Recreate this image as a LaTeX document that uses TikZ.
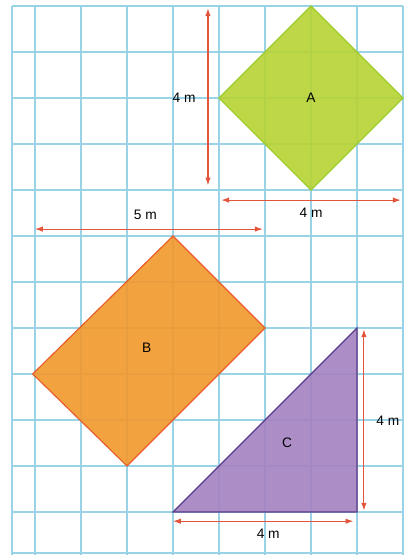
\documentclass[tikz,border=0pt]{standalone}
\usepackage{xcolor}
\usepackage{fontspec}
\setmainfont{Liberation Sans}
\usepackage{tikz}
\usetikzlibrary{arrows.meta, calc}

\definecolor{gridblue}{HTML}{9AD2E6}
\definecolor{dimred}{HTML}{E2553A}
\definecolor{shapeA}{HTML}{B6D334}
\definecolor{edgeA}{HTML}{9CCB2C}
\definecolor{shapeB}{HTML}{F2982C}
\definecolor{edgeB}{HTML}{E65C2A}
\definecolor{shapeC}{HTML}{A581C0}
\definecolor{edgeC}{HTML}{5A3A8A}

\begin{document}
\begin{tikzpicture}[
  dim/.style={{Latex[length=1.7mm,width=1.2mm]}-{Latex[length=1.7mm,width=1.2mm]}, dimred, line width=0.7pt},
  lbl/.style={font=\fontsize{8.5}{10}\selectfont, inner sep=1pt}
]
\useasboundingbox (-0.761,-0.935) rectangle (8.0,11.13);
% Draw the grid paper
\fill[white] (-0.761,-0.935) rectangle (8.0,11.13);
\foreach \x in {0,1,2,3,4,5,6,7,8} {
  \draw[gridblue, line width=0.8pt] (\x,-0.935) -- (\x,11);
}
\foreach \y in {0,1,2,3,4,5,6,7,8,9,10,11} {
  \draw[gridblue, line width=0.8pt] (-0.5,\y) -- (8.0,\y);
}
\draw[gridblue, line width=0.8pt] (-0.5,-0.935) -- (-0.5,11);
\draw[gridblue, line width=0.8pt] (-0.5,-0.89) -- (8.0,-0.89);
% Shape A
\filldraw[fill=shapeA, fill opacity=0.9, draw=edgeA, line width=0.7pt]
  (6,11) -- (8,9) -- (6,7) -- (4,9) -- cycle;
\node[lbl] (A) at (6,9) {A};
% Shape B
\filldraw[fill=shapeB, fill opacity=0.9, draw=edgeB, line width=0.7pt]
  (3,6) -- (5,4) -- (2,1) -- (-0.05,3) -- cycle;
\node[lbl] (B) at (2.43,3.57) {B};
% Shape C
\filldraw[fill=shapeC, fill opacity=0.9, draw=edgeC, line width=0.7pt]
  (3,0) -- (7,4) -- (7,0) -- cycle;
\node[lbl] (C) at (5.48,1.5) {C};
% Draw the measures
\draw[dim] (3.76,10.95) -- (3.76,7.1);
\node[lbl] (hA) at (3.24,9) {4 m};
\draw[dim] (4.05,6.78) -- (7.95,6.78);
\node[lbl] (wA) at (6,6.5) {4 m};
\draw[dim] (0,6.15) -- (4.95,6.15);
\node[lbl] (wB) at (2.4,6.47) {5 m};
\draw[dim] (7.15,3.97) -- (7.15,0.03);
\node[lbl] (hC) at (7.67,1.98) {4 m};
\draw[dim] (3.0,-0.2) -- (6.92,-0.2);
\node[lbl] (wC) at (5.07,-0.48) {4 m};
\end{tikzpicture}
\end{document}
